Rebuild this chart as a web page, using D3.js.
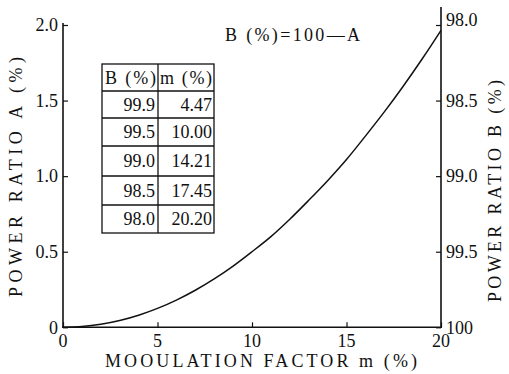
<!DOCTYPE html>
<html><head><meta charset="utf-8">
<script src="https://cdn.jsdelivr.net/npm/d3@7"></script>
<style>
html,body{margin:0;padding:0;background:#fff;}
</style></head>
<body><svg id="c" width="509" height="374"></svg>
<script>
// Data
const mValues = [0,1,2,3,4,5,6,7,8,9,10,11,12,13,14,15,16,17,18,19,20];
const aValues = [0,0.005,0.02,0.045,0.08,0.125,0.18,0.245,0.32,0.405,0.50,0.60,0.715,0.84,0.97,1.11,1.265,1.425,1.595,1.775,1.965];
const xTicks = [0,5,10,15,20];
const yTicksA = [0,0.5,1.0,1.5,2.0];
const yTickLabelsA = ["0","0.5","1.0","1.5","2.0"];
const yTicksB = [98.0,98.5,99.0,99.5,100];
const yTickLabelsB = ["98.0","98.5","99.0","99.5","100"];
const tableB = ["99.9","99.5","99.0","98.5","98.0"];
const tableM = ["4.47","10.00","14.21","17.45","20.20"];

const svg = d3.select("#c");
const FONT = '"Liberation Serif"';
const x = d3.scaleLinear().domain([0,20]).range([63,441]);
const yA = d3.scaleLinear().domain([0,2]).range([327.3,25]);
const yB = d3.scaleLinear().domain([100,98]).range([327.3,25]);
const FS = 18;
const T = (sel)=>sel.append("text").style("font-family",FONT).attr("font-size",FS).attr("fill","#111");

// Axes lines
svg.append("line").attr("x1",63).attr("x2",63).attr("y1",23).attr("y2",327.3).attr("stroke","#111").attr("stroke-width",1.6);
svg.append("line").attr("x1",441).attr("x2",441).attr("y1",7).attr("y2",327.3).attr("stroke","#111").attr("stroke-width",1.6);
svg.append("line").attr("x1",62).attr("x2",442).attr("y1",327.3).attr("y2",327.3).attr("stroke","#111").attr("stroke-width",1.6);

// Left axis
const gL = svg.append("g").attr("transform","translate(63,0)")
  .call(d3.axisRight(yA).tickValues(yTicksA).tickSize(5).tickFormat(""));
gL.select(".domain").remove();
gL.selectAll(".tick line").attr("stroke","#111").attr("stroke-width",1.2);
yTicksA.forEach((v,i)=>{
  T(svg).attr("x",58).attr("y",yA(v)).attr("dy","0.35em")
    .attr("text-anchor","end").text(yTickLabelsA[i]);
});

// Right axis
const gR = svg.append("g").attr("transform","translate(441,0)")
  .call(d3.axisLeft(yB).tickValues(yTicksB).tickSize(5).tickFormat(""));
gR.select(".domain").remove();
gR.selectAll(".tick line").attr("stroke","#111").attr("stroke-width",1.2);
yTicksB.forEach((v,i)=>{
  T(svg).attr("x",446).attr("y",yB(v)-(i===0?5:0)).attr("dy","0.35em")
    .attr("text-anchor","start").text(yTickLabelsB[i]);
});

// Bottom axis
const gX = svg.append("g").attr("transform","translate(0,327.3)")
  .call(d3.axisTop(x).tickValues(xTicks).tickSize(5).tickFormat(""));
gX.select(".domain").remove();
gX.selectAll(".tick line").attr("stroke","#111").attr("stroke-width",1.2);
xTicks.forEach(v=>{
  T(svg).attr("x",x(v)).attr("y",347).attr("text-anchor","middle").text(String(v));
});

// Curve
const line = d3.line().x((d,i)=>x(mValues[i])).y(d=>yA(d)).curve(d3.curveCatmullRom.alpha(0.5));
svg.append("path").datum(aValues).attr("d",line).attr("fill","none")
  .attr("stroke","#111").attr("stroke-width",1.5);

// Axis titles
T(svg).attr("transform","translate(22,177) rotate(-90)")
  .attr("text-anchor","middle")
  .attr("textLength",240).attr("lengthAdjust","spacing")
  .text("POWER RATIO A (%)");
T(svg).attr("transform","translate(501,191) rotate(-90)")
  .attr("text-anchor","middle")
  .attr("textLength",222).attr("lengthAdjust","spacing")
  .text("POWER RATIO B (%)");
T(svg).attr("x",105).attr("y",367)
  .attr("textLength",312).attr("lengthAdjust","spacing")
  .text("MOOULATION FACTOR m (%)");

// Annotation
T(svg).attr("x",225).attr("y",41)
  .attr("textLength",135).attr("lengthAdjust","spacing")
  .text("B (%)=100\u2014A");

// Table
const tx0 = 102, tx1 = 158, tx2 = 214;
const rowY = [64,91,118,146,176,205,233];
const tg = svg.append("g");
tg.append("rect").attr("x",tx0).attr("y",rowY[0]).attr("width",tx2-tx0).attr("height",rowY[6]-rowY[0])
  .attr("fill","none").attr("stroke","#111").attr("stroke-width",1.3);
tg.append("line").attr("x1",tx1).attr("x2",tx1).attr("y1",rowY[0]).attr("y2",rowY[6]).attr("stroke","#111").attr("stroke-width",1.3);
rowY.slice(1,6).forEach(yy=>{
  tg.append("line").attr("x1",tx0).attr("x2",tx2).attr("y1",yy).attr("y2",yy).attr("stroke","#111").attr("stroke-width",1.3);
});
T(tg).attr("x",tx0+3).attr("y",(rowY[0]+rowY[1])/2).attr("dy","0.35em")
  .attr("textLength",tx1-tx0-5).attr("lengthAdjust","spacing").text("B (%)");
T(tg).attr("x",tx1+2).attr("y",(rowY[0]+rowY[1])/2).attr("dy","0.35em")
  .attr("textLength",tx2-tx1-4).attr("lengthAdjust","spacing").text("m (%)");
tableB.forEach((b,i)=>{
  const cy = (rowY[i+1]+rowY[i+2])/2;
  T(tg).attr("x",tx1-3).attr("y",cy).attr("dy","0.35em").attr("text-anchor","end").text(b);
  T(tg).attr("x",tx2-2).attr("y",cy).attr("dy","0.35em").attr("text-anchor","end").text(tableM[i]);
});
</script></body></html>
